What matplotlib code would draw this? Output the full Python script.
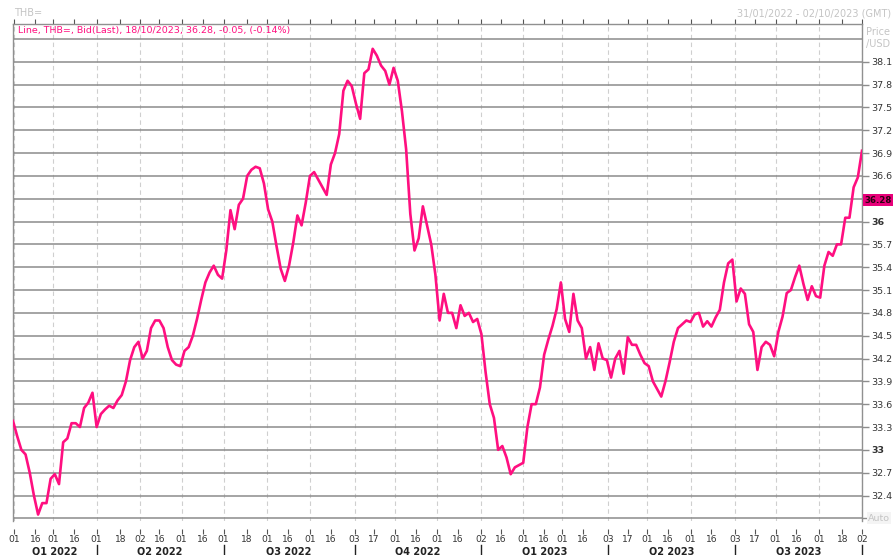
import matplotlib
matplotlib.use("Agg")
import matplotlib.dates as mdates
import matplotlib.pyplot as plt
import matplotlib.transforms as mtransforms
import pandas as pd

# THB= bid, sampled every 3 calendar days from 31/01/2022 to 02/10/2023
START = "2022-01-31"
END = "2023-10-02"
THB = [
    33.38, 33.18, 33.00, 32.94, 32.70, 32.40, 32.15, 32.30, 32.30, 32.62,
    32.68, 32.55, 33.10, 33.15, 33.35, 33.35, 33.30, 33.55, 33.62, 33.75,
    33.30, 33.47, 33.53, 33.58, 33.55, 33.65, 33.72, 33.90, 34.18, 34.35,
    34.42, 34.20, 34.30, 34.60, 34.70, 34.70, 34.60, 34.35, 34.18, 34.12,
    34.10, 34.30, 34.35, 34.50, 34.72, 34.97, 35.20, 35.33, 35.42, 35.30,
    35.25, 35.62, 36.15, 35.90, 36.22, 36.30, 36.60, 36.68, 36.72, 36.70,
    36.50, 36.16, 36.00, 35.68, 35.38, 35.22, 35.42, 35.72, 36.08, 35.95,
    36.25, 36.60, 36.65, 36.55, 36.45, 36.35, 36.75, 36.90, 37.15, 37.72,
    37.85, 37.78, 37.55, 37.35, 37.95, 38.00, 38.27, 38.18, 38.05, 37.98,
    37.80, 38.02, 37.85, 37.45, 36.95, 36.10, 35.62, 35.78, 36.20, 35.95,
    35.70, 35.30, 34.70, 35.05, 34.80, 34.80, 34.60, 34.90, 34.76, 34.80,
    34.68, 34.72, 34.52, 34.02, 33.60, 33.42, 33.00, 33.05, 32.90, 32.68,
    32.77, 32.80, 32.83, 33.30, 33.60, 33.60, 33.82, 34.25, 34.45, 34.63,
    34.85, 35.20, 34.72, 34.55, 35.05, 34.70, 34.60, 34.20, 34.35, 34.05,
    34.40, 34.20, 34.18, 33.95, 34.20, 34.30, 34.00, 34.48, 34.38, 34.38,
    34.25, 34.14, 34.10, 33.90, 33.80, 33.70, 33.90, 34.15, 34.42, 34.60,
    34.65, 34.70, 34.68, 34.78, 34.80, 34.62, 34.69, 34.62, 34.74, 34.84,
    35.20, 35.45, 35.50, 34.95, 35.12, 35.05, 34.65, 34.55, 34.05, 34.35,
    34.42, 34.38, 34.23, 34.55, 34.75, 35.06, 35.10, 35.27, 35.42, 35.18,
    34.97, 35.15, 35.02, 35.00, 35.42, 35.60, 35.55, 35.70, 35.70, 36.05,
    36.05, 36.45, 36.58, 36.93,
]
LAST_PRICE = 36.28

Y_TICKS = [32.1, 32.4, 32.7, 33.0, 33.3, 33.6, 33.9, 34.2, 34.5, 34.8, 35.1,
           35.4, 35.7, 36.0, 36.3, 36.6, 36.9, 37.2, 37.5, 37.8, 38.1, 38.4]
Y_LABELS = ["", "32.4", "32.7", "33", "33.3", "33.6", "33.9", "34.2", "34.5",
            "34.8", "35.1", "35.4", "35.7", "36", "", "36.6", "36.9", "37.2",
            "37.5", "37.8", "38.1", ""]

X_TICKS = [
    "2022-02-01", "2022-02-16", "2022-03-01", "2022-03-16", "2022-04-01",
    "2022-04-18", "2022-05-02", "2022-05-16", "2022-06-01", "2022-06-16",
    "2022-07-01", "2022-07-18", "2022-08-01", "2022-08-16", "2022-09-01",
    "2022-09-16", "2022-10-03", "2022-10-17", "2022-11-01", "2022-11-16",
    "2022-12-01", "2022-12-16", "2023-01-02", "2023-01-16", "2023-02-01",
    "2023-02-16", "2023-03-01", "2023-03-16", "2023-04-03", "2023-04-17",
    "2023-05-01", "2023-05-16", "2023-06-01", "2023-06-16", "2023-07-03",
    "2023-07-17", "2023-08-01", "2023-08-16", "2023-09-01", "2023-09-18",
    "2023-10-02",
]
QUARTERS = ["Q1 2022", "Q2 2022", "Q3 2022", "Q4 2022", "Q1 2023", "Q2 2023", "Q3 2023"]
QUARTER_EDGES = ["2022-01-31", "2022-04-01", "2022-07-01", "2022-10-03",
                 "2023-01-02", "2023-04-03", "2023-07-03", "2023-10-02"]

PINK = "#FF0F80"
GRID = "#8c8c8c"
LIGHT = "#c4c4c4"
TEXT = "#333333"

plt.rcParams["font.family"] = "DejaVu Sans"

dates = pd.date_range(START, periods=len(THB), freq="3D")
ticks = pd.to_datetime(X_TICKS)
edges = pd.to_datetime(QUARTER_EDGES)

fig = plt.figure(figsize=(8.93, 5.55), dpi=100)
fig.patch.set_facecolor("white")
W, H = 893, 555
ax = fig.add_axes([13 / W, 1 - 521 / H, (862 - 13) / W, (521 - 24) / H])

ax.plot(dates, THB, color=PINK, linewidth=1.9, solid_joinstyle="round", zorder=3)

ax.set_xlim(pd.Timestamp(START), pd.Timestamp(END))
ax.set_ylim(32.065, 38.596)

# horizontal price grid, solid
ax.yaxis.tick_right()
ax.set_yticks(Y_TICKS)
ax.set_yticklabels(Y_LABELS)
ax.tick_params(axis="y", length=5, width=1, color=GRID, pad=1.5, labelsize=6.8,
               labelcolor=TEXT)
ax.yaxis.get_major_ticks()[-1].tick2line.set_visible(False)
for lbl in ax.get_yticklabels():
    if lbl.get_text() in ("36", "33"):
        lbl.set_fontweight("bold")
ax.yaxis.grid(True, color=GRID, linewidth=1.1)

# vertical dashed grid at month starts
for t in ticks:
    if t.day <= 3:
        ax.axvline(t, color="#cfcfcf", linewidth=0.8, linestyle=(0, (4, 3)), zorder=1)

ax.set_xticks(ticks)
ax.xaxis.set_major_formatter(mdates.DateFormatter("%d"))
ax.spines["bottom"].set_position(("outward", 6))
ax.spines["bottom"].set_color("none")
ax.tick_params(axis="x", length=3.5, width=0.8, color="#555555", pad=0.8,
               labelsize=6.6, labelcolor=TEXT, top=True)
for s in ("top", "left", "right"):
    ax.spines[s].set_color("#909090")
    ax.spines[s].set_linewidth(1.0)

# quarter labels and separators under the dates
blend = mtransforms.blended_transform_factory(ax.transData, ax.transAxes)
for i, q in enumerate(QUARTERS):
    mid = edges[i] + (edges[i + 1] - edges[i]) / 2
    ax.text(mid, -0.061, q, transform=blend, ha="center", va="center",
            fontsize=7, fontweight="bold", color="#222222")
for e in edges[1:]:
    ax.plot([e, e], [-0.048, -0.075], transform=blend, color="#222222",
            linewidth=1.0, clip_on=False)

# legend line inside the header strip
ax.text(5 / 849, 1 - 7 / 497, "Line, THB=, Bid(Last), 18/10/2023, 36.28, -0.05, (-0.14%)",
        transform=ax.transAxes, ha="left", va="center", fontsize=6.8, color=PINK)

# last price marker
yblend = mtransforms.blended_transform_factory(ax.transAxes, ax.transData)
ax.text(1.0025, LAST_PRICE, "36.28", transform=yblend, ha="left", va="center",
        fontsize=6.2, fontweight="bold", color="#2a0010",
        bbox=dict(boxstyle="square,pad=0.18", facecolor="#E8007A", edgecolor="none"))
ax.text(1.007, 32.1, "Auto", transform=yblend, ha="left", va="center",
        fontsize=6.8, color=LIGHT,
        bbox=dict(boxstyle="square,pad=0.15", facecolor="#f4f4f4", edgecolor="none"))

# header texts
fig.text(14 / W, 1 - 13 / H, "THB=", fontsize=7, color=LIGHT, va="center")
fig.text(891 / W, 1 - 13 / H, "31/01/2022 - 02/10/2023 (GMT)", fontsize=7, color=LIGHT,
         va="center", ha="right")
fig.text(866 / W, 1 - 32 / H, "Price", fontsize=7, color=LIGHT, va="center")
fig.text(866 / W, 1 - 44 / H, "/USD", fontsize=7, color=LIGHT, va="center")

fig.savefig("out.png", dpi=100, facecolor="white")
